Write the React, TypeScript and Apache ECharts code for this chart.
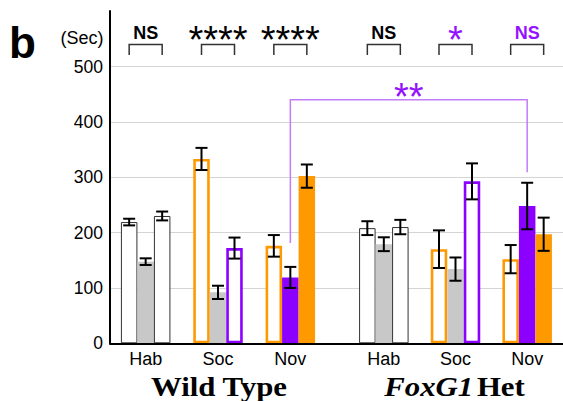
import React, { useEffect, useRef } from 'react';
import * as echarts from 'echarts';

const categories = ['Hab', 'Soc', 'Nov'];
const yTicks = [0, 100, 200, 300, 400, 500];

// Wild Type — bar positions 1..3 within each category
const wtFirst = [219, 333, 176];
const wtFirstErr = [6, 20, 19.5];
const wtSecond = [147.5, 92, 119];
const wtSecondErr = [6, 12, 19];
const wtThird = [230, 172, 302];
const wtThirdErr = [8, 19, 21];

// FoxG1 Het
const hetFirst = [208, 170, 152];
const hetFirstErr = [12.5, 34, 25.5];
const hetSecond = [179, 134, 248];
const hetSecondErr = [12.5, 21, 42];
const hetThird = [210, 292.5, 197];
const hetThirdErr = [13, 32.5, 30];

// bar kind per position [pos][category]
const barKinds = [
  ['white', 'orangeOutline', 'orangeOutline'],
  ['grey', 'grey', 'purple'],
  ['white', 'purpleOutline', 'orange'],
];

const wtSig = ['NS', '****', '****'];
const wtSigColor = ['black', 'black', 'black'];
const hetSig = ['NS', '*', 'NS'];
const hetSigColor = ['black', 'purple', 'purple'];

const novCompLabel = '**';
const novCompEnds = [181, 309];
const novCompTop = 440;

const ORANGE = '#ff9900';
const PURPLE = '#8c00ff';
const GREY = '#c8c8c8';
const SIG_PURPLE = '#9412ff';

const kindStyle: Record<string, any> = {
  white: { color: '#ffffff', borderColor: '#333333', borderWidth: 1 },
  grey: { color: GREY },
  orange: { color: ORANGE },
  purple: { color: PURPLE },
  orangeOutline: { color: '#ffffff', borderColor: ORANGE, borderWidth: 2.6 },
  purpleOutline: { color: '#ffffff', borderColor: PURPLE, borderWidth: 2.6 },
};

const BAR_W = 16.5;
const TOP = 66.5;
const BOTTOM = 57.7;

const genotypes = [
  { values: [wtFirst, wtSecond, wtThird], errs: [wtFirstErr, wtSecondErr, wtThirdErr], sig: wtSig, sigColor: wtSigColor },
  { values: [hetFirst, hetSecond, hetThird], errs: [hetFirstErr, hetSecondErr, hetThirdErr], sig: hetSig, sigColor: hetSigColor },
];

export default function App() {
  const ref = useRef<HTMLDivElement>(null);
  useEffect(() => {
    if (!ref.current) return;
    const chart = echarts.init(ref.current, undefined, { renderer: 'svg' });

    const series: any[] = [];
    genotypes.forEach((g, gi) => {
      g.values.forEach((vals, pos) => {
        series.push({
          type: 'bar',
          xAxisIndex: 2 + gi,
          yAxisIndex: 2 + gi,
          barWidth: BAR_W,
          barGap: '0%',
          data: vals.map((v, ci) => ({ value: v, itemStyle: kindStyle[barKinds[pos][ci]] })),
          z: 2,
        });
      });
      const errData: any[] = [];
      g.values.forEach((vals, pos) => {
        vals.forEach((v, ci) => errData.push([ci, v, g.errs[pos][ci], pos]));
      });
      series.push({
        type: 'custom',
        xAxisIndex: 2 + gi,
        yAxisIndex: 2 + gi,
        z: 5,
        clip: false,
        data: errData,
        renderItem: (params: any, api: any) => {
          const ci = api.value(0);
          const v = api.value(1);
          const e = api.value(2);
          const pos = api.value(3);
          const t = api.coord([ci, v + e]);
          const b = api.coord([ci, v - e]);
          const x = t[0] + (pos - 1) * BAR_W;
          const st = { stroke: '#000', lineWidth: 2 };
          return {
            type: 'group',
            children: [
              { type: 'line', shape: { x1: x, y1: t[1], x2: x, y2: b[1] }, style: st },
              { type: 'line', shape: { x1: x - 6, y1: t[1], x2: x + 6, y2: t[1] }, style: st },
              { type: 'line', shape: { x1: x - 6, y1: b[1], x2: x + 6, y2: b[1] }, style: st },
            ],
          };
        },
      });
    });

    const catAxis = (gi: number) => ({
      type: 'category',
      gridIndex: 2 + gi,
      data: categories,
      axisLine: { show: false },
      axisTick: { show: false },
      axisLabel: { fontSize: 18, color: '#000', fontFamily: 'Liberation Sans', margin: 7 },
    });
    const hiddenY = (gi: number) => ({
      type: 'value',
      gridIndex: 2 + gi,
      min: 0,
      max: 500,
      interval: 100,
      show: false,
    });

    chart.setOption({
      animation: false,
      backgroundColor: '#ffffff',
      grid: [
        { left: 110, right: 0, top: 11, bottom: BOTTOM },
        { left: 110, right: 0, top: TOP, bottom: BOTTOM },
        { left: 109.5, width: 217, top: TOP, bottom: BOTTOM },
        { left: 348, width: 216, top: TOP, bottom: BOTTOM },
      ],
      xAxis: [
        {
          type: 'value', gridIndex: 0, min: 0, max: 1, z: 10,
          axisLine: { show: true, lineStyle: { color: '#000', width: 2 } },
          axisTick: { show: false }, axisLabel: { show: false }, splitLine: { show: false },
        },
        { type: 'value', gridIndex: 1, min: 0, max: 1, show: false },
        catAxis(0),
        catAxis(1),
      ],
      yAxis: [
        {
          type: 'value', gridIndex: 0, min: 0, max: 1, z: 10,
          axisLine: { show: true, lineStyle: { color: '#000', width: 2 } },
          axisTick: { show: false }, axisLabel: { show: false }, splitLine: { show: false },
        },
        {
          type: 'value', gridIndex: 1, min: yTicks[0], max: yTicks[yTicks.length - 1], interval: 100,
          axisLine: { show: false }, axisTick: { show: false },
          axisLabel: { fontSize: 17.5, color: '#000', fontFamily: 'Liberation Sans', margin: 7 },
          splitLine: { show: true, lineStyle: { color: '#d4d4d4', width: 1 } },
        },
        hiddenY(0),
        hiddenY(1),
      ],
      series,
    });

    const cx = (gi: number, ci: number) => chart.convertToPixel({ xAxisIndex: 2 + gi } as any, ci) as number;
    const py = (v: number) => chart.convertToPixel({ yAxisIndex: 2 } as any, v) as number;

    const graphic: any[] = [];
    const txt = (x: number, y: number, text: string, size: number, color: string, weight = 'normal', family = 'Liberation Sans', align = 'center') => ({
      type: 'text', x, y, z: 20,
      style: { text, fontSize: size, fontWeight: weight, fontFamily: family, fill: color, align, verticalAlign: 'middle' },
    });

    genotypes.forEach((g, gi) => {
      categories.forEach((_, ci) => {
        const c = cx(gi, ci);
        const color = g.sigColor[ci] === 'purple' ? SIG_PURPLE : '#000';
        const label = g.sig[ci];
        if (label.startsWith('*')) {
          graphic.push(txt(c, 40, label, 38, color));
        } else {
          graphic.push(txt(c, 33, label, 18, color, 'bold'));
        }
        graphic.push({
          type: 'polyline', z: 20,
          shape: { points: [[c - BAR_W, 55], [c - BAR_W, 44.5], [c + BAR_W, 44.5], [c + BAR_W, 55]] },
          style: { stroke: '#333', lineWidth: 1.5, fill: 'none' },
        });
      });
    });

    const xl = cx(0, 2);
    const xr = cx(1, 2);
    graphic.push({
      type: 'polyline', z: 20,
      shape: { points: [[xl, py(novCompEnds[0])], [xl, py(novCompTop)], [xr, py(novCompTop)], [xr, py(novCompEnds[1])]] },
      style: { stroke: '#c27cf8', lineWidth: 1.5, fill: 'none' },
    });
    graphic.push(txt((xl + xr) / 2, py(novCompTop) - 3, novCompLabel, 38, SIG_PURPLE));

    graphic.push(txt(103.5, 37.5, '(Sec)', 18, '#000', 'normal', 'Liberation Sans', 'right'));
    graphic.push(txt(9, 42, 'b', 44, '#000', 'bold', 'Liberation Sans', 'left'));

    graphic.push({
      type: 'text', x: cx(0, 1) + 1, y: 386, scaleX: 1.1, z: 20,
      style: { text: 'Wild Type', fontSize: 28, fontWeight: 'bold', fontFamily: 'Liberation Serif', fill: '#000', align: 'center', verticalAlign: 'middle' },
    });
    graphic.push({
      type: 'text', x: cx(1, 1) - 1, y: 386, scaleX: 1.1, z: 20,
      style: {
        text: '{i|FoxG1} {b|Het}', align: 'center', verticalAlign: 'middle',
        rich: {
          i: { fontSize: 28, fontWeight: 'bold', fontStyle: 'italic', fontFamily: 'Liberation Serif', fill: '#000' },
          b: { fontSize: 28, fontWeight: 'bold', fontFamily: 'Liberation Serif', fill: '#000' },
        },
      },
    });

    chart.setOption({ graphic });

    return () => chart.dispose();
  }, []);

  return <div ref={ref} style={{ position: 'absolute', left: 0, top: 0, width: 563, height: 401 }} />;
}
